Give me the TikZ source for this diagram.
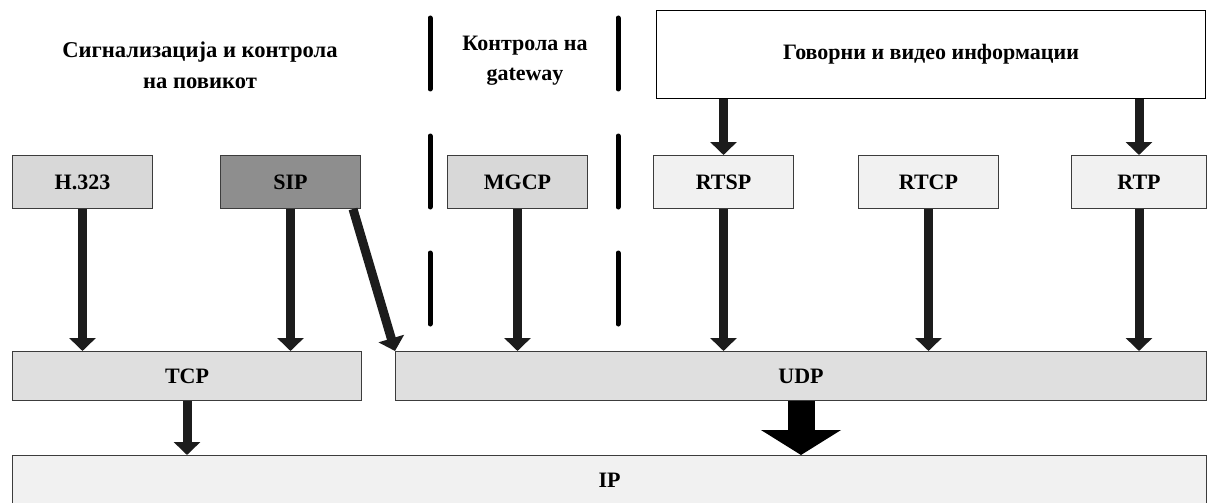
\documentclass[tikz,border=0pt]{standalone}
\usepackage{fontspec}
\setmainfont{Liberation Serif}
\usepackage{tikz}
\usetikzlibrary{arrows.meta,calc}
\definecolor{protink}{HTML}{1C1C1C}
\definecolor{protedge}{HTML}{3C3C3C}
\definecolor{protlight}{HTML}{F1F1F1}
\definecolor{protmid}{HTML}{D8D8D8}
\definecolor{protlayer}{HTML}{DFDFDF}
\definecolor{protdark}{HTML}{8E8E8E}

\begin{document}
\begin{tikzpicture}[x=1pt,y=-1pt,line join=miter,
  font=\bfseries\fontsize{22}{30}\selectfont,
  proto/.style={draw=protedge,line width=1pt,anchor=north west,inner sep=0pt,
    minimum width=140pt,minimum height=53pt},
  layer/.style={proto,minimum height=49pt},
  flow/.style={draw=protink,line width=9pt,-{Triangle[width=26pt,length=13pt]}},
  bigflow/.style={draw=black,line width=27pt,-{Triangle[width=79pt,length=25pt]}},
  sep/.style={line width=5pt,line cap=round}]
  \path[use as bounding box] (0,0) rectangle (1208,503);
  \fill[white] (0,0) rectangle (1208,503);
  \clip (0,0) rectangle (1208,503);
  % naslovi na oblastite
  \node[align=center,font=\bfseries\fontsize{22.6}{31}\selectfont] (sigtitle) at (200,65)
    {Сигнализација и контрола\\на повикот};
  \node[align=center] (gwtitle) at (525,61) {Контрола на\\gateway};
  \node[draw=black,line width=1.2pt,fill=white,anchor=north west,inner sep=0pt,
    minimum width=549pt,minimum height=88pt] (media) at (656,10) {Говорни и видео информации};
  % isprekinati granici
  \foreach \x in {430,618}
    \foreach \a/\b in {18/89,136/207,253/324}
      \draw[sep] (\x,\a) -- (\x,\b);
  % protokoli
  \node[proto,fill=protmid] (h323) at (12,155) {H.323};
  \node[proto,fill=protdark] (sip) at (220,155) {SIP};
  \node[proto,fill=protmid] (mgcp) at (447,155) {MGCP};
  \node[proto,fill=protlight] (rtsp) at (653,155) {RTSP};
  \node[proto,fill=protlight] (rtcp) at (858,155) {RTCP};
  \node[proto,fill=protlight,minimum width=135pt] (rtp) at (1071,155) {RTP};
  \node[layer,fill=protlayer,minimum width=349pt] (tcp) at (12,351) {TCP};
  \node[layer,fill=protlayer,minimum width=811pt] (udp) at (395,351) {UDP};
  \node[proto,fill=protlight,minimum width=1194pt,minimum height=50pt] (ip) at (12,455) {IP};
  % strelki
  \draw[flow] (media.south -| rtsp.north) -- (rtsp.north);
  \draw[flow] (media.south -| rtp.north) -- (rtp.north);
  \draw[flow] (h323.south) -- (h323.south |- tcp.north);
  \draw[flow] (sip.south) -- (sip.south |- tcp.north);
  \draw[flow] ([xshift=-8pt]sip.south east) -- (udp.north west);
  \draw[flow] (mgcp.south) -- (mgcp.south |- udp.north);
  \foreach \p in {rtsp,rtcp,rtp}
    \draw[flow] (\p.south) -- (\p.south |- udp.north);
  \draw[flow] (tcp.south) -- (tcp.south |- ip.north);
  \draw[bigflow] (udp.south) -- (udp.south |- ip.north);
\end{tikzpicture}
\end{document}
